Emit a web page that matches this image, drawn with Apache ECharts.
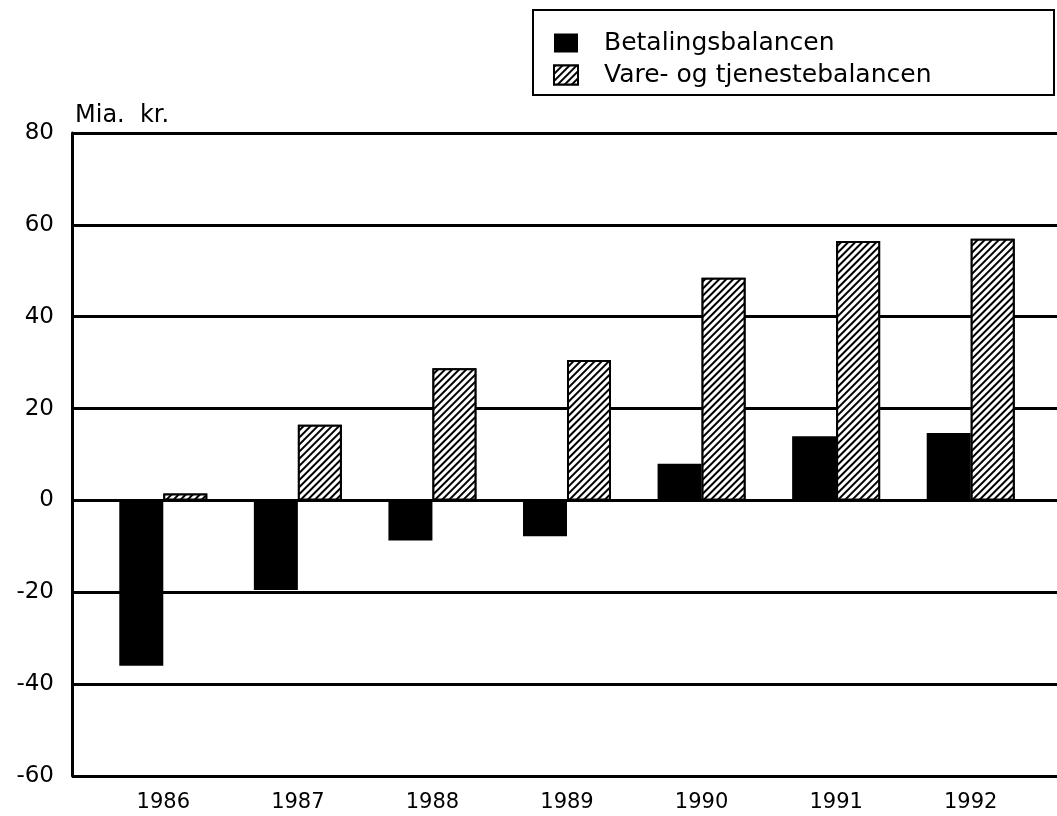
<!DOCTYPE html>
<html>
<head>
<meta charset="utf-8">
<script src="https://cdn.jsdelivr.net/npm/echarts@6/dist/echarts.min.js"></script>
<style>
  html, body { margin: 0; padding: 0; background: #fff; }
  #main { width: 1057px; height: 816px; }
</style>
</head>
<body>
<div id="main"></div>
<script>
var years = ['1986', '1987', '1988', '1989', '1990', '1991', '1992'];
var betaling = [-36, -19.5, -8.7, -7.8, 8, 14, 14.7];
var vareTjeneste = [1.5, 16.5, 28.8, 30.6, 48.5, 56.5, 57];
var yTicks = { min: -60, max: 80, interval: 20 };

var font = 'DejaVu Sans';
var myChart = echarts.init(document.getElementById('main'), null, {renderer: 'canvas'});

var option = {
    backgroundColor: '#fff',
    animation: false,
    title: {
        text: 'Mia.  kr.',
        left: 70,
        top: 99,
        textStyle: { fontFamily: font, fontSize: 24, fontWeight: 'normal', color: '#000' }
    },
    legend: {
        orient: 'vertical',
        left: 533,
        top: 10,
        padding: [19, 30, 6, 20],
        itemGap: 4,
        itemWidth: 24,
        itemHeight: 19,
        icon: 'rect',
        backgroundColor: '#fff',
        borderColor: '#000',
        borderWidth: 2,
        borderRadius: 0,
        textStyle: {
            fontFamily: font,
            fontSize: 25,
            color: '#000',
            lineHeight: 28,
            width: 420,
            padding: [0, 0, 0, 21]
        },
        data: ['Betalingsbalancen', 'Vare- og tjenestebalancen']
    },
    grid: [
        { left: 72, right: 0, top: 133, bottom: 40 },
        { left: 96, width: 942, top: 133, bottom: 40 }
    ],
    xAxis: [
        { gridIndex: 0, type: 'value', show: false, splitLine: { show: false } },
        {
            gridIndex: 1,
            type: 'category',
            data: years,
            axisLine: { show: false },
            axisTick: { show: false },
            axisLabel: { margin: 16, fontFamily: font, fontSize: 21, color: '#000' }
        }
    ],
    yAxis: [
        {
            gridIndex: 0,
            type: 'value',
            min: yTicks.min,
            max: yTicks.max,
            interval: yTicks.interval,
            axisLine: { show: true, lineStyle: { color: '#000', width: 3 } },
            axisTick: { show: false },
            splitLine: { show: true, lineStyle: { color: '#000', width: 3 } },
            axisLabel: { margin: 18, fontFamily: font, fontSize: 23, color: '#000' }
        },
        {
            gridIndex: 1,
            type: 'value',
            min: yTicks.min,
            max: yTicks.max,
            interval: yTicks.interval,
            show: false,
            splitLine: { show: false }
        }
    ],
    series: [
        {
            name: 'Betalingsbalancen',
            type: 'bar',
            xAxisIndex: 1,
            yAxisIndex: 1,
            barWidth: 44,
            barGap: '0%',
            itemStyle: { color: '#000' },
            data: betaling
        },
        {
            name: 'Vare- og tjenestebalancen',
            type: 'bar',
            xAxisIndex: 1,
            yAxisIndex: 1,
            barWidth: 44,
            barGap: '0%',
            itemStyle: {
                color: '#fff',
                borderColor: '#000',
                borderWidth: 2,
                decal: {
                    symbol: 'rect',
                    color: '#000',
                    backgroundColor: '#fff',
                    dashArrayX: [1, 0],
                    dashArrayY: [2, 2.5],
                    rotation: -Math.PI / 4
                }
            },
            data: vareTjeneste
        }
    ]
};
myChart.setOption(option);
</script>
</body>
</html>
